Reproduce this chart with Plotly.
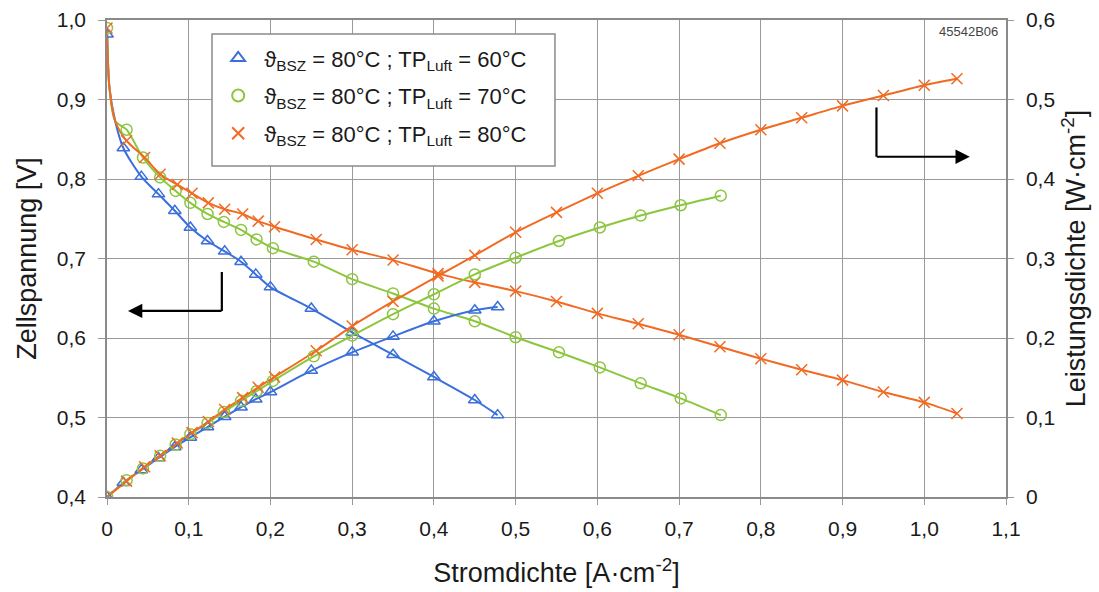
import plotly.graph_objects as go

# ---------------- data ----------------
current_60 = [0, 0.02, 0.042, 0.063, 0.083, 0.102, 0.123, 0.144, 0.164, 0.182, 0.2,
              0.25, 0.3, 0.35, 0.4, 0.45, 0.478]
voltage_60 = [0.982, 0.839, 0.803, 0.781, 0.760, 0.739, 0.722, 0.709, 0.696, 0.680, 0.664,
              0.637, 0.607, 0.579, 0.551, 0.522, 0.503]
power_60 = [0, 0.018, 0.034, 0.049, 0.063, 0.075, 0.088, 0.101, 0.113, 0.123, 0.132,
            0.159, 0.182, 0.202, 0.221, 0.235, 0.239]

current_70 = [0, 0.024, 0.044, 0.065, 0.084, 0.102, 0.123, 0.143, 0.164, 0.183, 0.203,
              0.253, 0.3, 0.35, 0.4, 0.45, 0.5, 0.553, 0.603, 0.653, 0.702, 0.751]
voltage_70 = [0.99, 0.862, 0.827, 0.802, 0.785, 0.770, 0.756, 0.746, 0.736, 0.724, 0.713,
              0.696, 0.674, 0.656, 0.637, 0.621, 0.601, 0.582, 0.563, 0.543, 0.524, 0.503]
power_70 = [0, 0.021, 0.036, 0.052, 0.066, 0.079, 0.093, 0.107, 0.121, 0.133, 0.146,
            0.177, 0.203, 0.230, 0.255, 0.280, 0.301, 0.322, 0.339, 0.354, 0.367, 0.379]

current_80 = [0, 0.024, 0.046, 0.065, 0.086, 0.104, 0.124, 0.144, 0.166, 0.185, 0.205,
              0.256, 0.3, 0.35, 0.405, 0.45, 0.5, 0.55, 0.6, 0.65, 0.7, 0.75, 0.8,
              0.85, 0.9, 0.95, 1.0, 1.04]
voltage_80 = [0.99, 0.848, 0.827, 0.806, 0.793, 0.782, 0.770, 0.762, 0.756, 0.747, 0.740,
              0.724, 0.711, 0.698, 0.681, 0.670, 0.659, 0.646, 0.631, 0.618, 0.604, 0.589,
              0.574, 0.560, 0.547, 0.532, 0.519, 0.505]
power_80 = [0, 0.020, 0.038, 0.052, 0.068, 0.081, 0.095, 0.110, 0.125, 0.138, 0.151,
            0.184, 0.215, 0.246, 0.278, 0.304, 0.333, 0.358, 0.382, 0.404, 0.425, 0.445,
            0.462, 0.477, 0.492, 0.505, 0.518, 0.526]

knee_current = [0, 0.003, 0.01]
knee_voltage = [0.99, 0.915, 0.873]

series_names = [
    "\u03d1<sub>BSZ</sub> = 80°C ; TP<sub>Luft</sub> = 60°C",
    "\u03d1<sub>BSZ</sub> = 80°C ; TP<sub>Luft</sub> = 70°C",
    "\u03d1<sub>BSZ</sub> = 80°C ; TP<sub>Luft</sub> = 80°C",
]

x_ticks = [0, 0.1, 0.2, 0.3, 0.4, 0.5, 0.6, 0.7, 0.8, 0.9, 1.0, 1.1]
x_ticktext = ["0", "0,1", "0,2", "0,3", "0,4", "0,5", "0,6", "0,7", "0,8", "0,9", "1,0", "1,1"]
yl_ticks = [0.4, 0.5, 0.6, 0.7, 0.8, 0.9, 1.0]
yl_ticktext = ["0,4", "0,5", "0,6", "0,7", "0,8", "0,9", "1,0"]
yr_ticks = [0, 0.1, 0.2, 0.3, 0.4, 0.5, 0.6]
yr_ticktext = ["0", "0,1", "0,2", "0,3", "0,4", "0,5", "0,6"]

# ---------------- styles ----------------
colors = ["#3a6fdc", "#8cc63e", "#f26a22"]
symbols = ["triangle-up-open", "circle-open", "x-thin-open"]
sizes = [11, 11, 11]
FONT = "Liberation Sans, Arial, sans-serif"

fig = go.Figure()

datasets = [
    (current_60, voltage_60, power_60),
    (current_70, voltage_70, power_70),
    (current_80, voltage_80, power_80),
]

for i, (cur, volt, powr) in enumerate(datasets):
    c = colors[i]
    fig.add_trace(go.Scatter(
        x=knee_current + cur[1:], y=knee_voltage + volt[1:], mode="lines",
        line=dict(color=c, width=2, shape="spline", smoothing=0.8),
        showlegend=False, hoverinfo="skip", yaxis="y", legendgroup=f"g{i}"))
    fig.add_trace(go.Scatter(
        x=cur, y=powr, mode="lines",
        line=dict(color=c, width=2, shape="spline", smoothing=0.8),
        showlegend=False, hoverinfo="skip", yaxis="y2", legendgroup=f"g{i}"))

for i, (cur, volt, powr) in enumerate(datasets):
    c = colors[i]
    mk = dict(symbol=symbols[i], color=c, size=sizes[i], line=dict(color=c, width=1.5))
    fig.add_trace(go.Scatter(x=cur, y=volt, mode="markers", marker=mk,
                             name=series_names[i], showlegend=True, yaxis="y",
                             legendgroup=f"g{i}"))
    fig.add_trace(go.Scatter(x=cur, y=powr, mode="markers", marker=mk,
                             name=series_names[i], showlegend=False, yaxis="y2",
                             legendgroup=f"g{i}"))

grid_col = "#9a9a9a"
axis_font = dict(family=FONT, size=21, color="#1a1a1a")
title_font = dict(family=FONT, size=27, color="#1a1a1a")

fig.update_layout(
    width=1099, height=592,
    margin=dict(l=107, r=93, t=20, b=95),
    paper_bgcolor="white", plot_bgcolor="white",
    font=dict(family=FONT, color="#1a1a1a"),
    xaxis=dict(
        range=[0, 1.1], tickvals=x_ticks, ticktext=x_ticktext,
        showgrid=True, gridcolor=grid_col, gridwidth=1,
        showline=True, linecolor="#8a8a8a", linewidth=1.5, mirror=True,
        ticks="outside", ticklen=6, tickcolor=grid_col, ticklabelstandoff=6,
        tickfont=axis_font, zeroline=False, automargin=False,
        title=dict(text="Stromdichte [A·cm<sup>-2</sup>]", font=title_font, standoff=24),
    ),
    yaxis=dict(
        range=[0.4, 1.0], tickvals=yl_ticks, ticktext=yl_ticktext,
        showgrid=True, gridcolor=grid_col, gridwidth=1,
        showline=True, linecolor="#8a8a8a", linewidth=1.5,
        ticks="outside", ticklen=7, tickcolor=grid_col, ticklabelstandoff=8,
        tickfont=axis_font, zeroline=False, automargin=False,
        title=dict(text="Zellspannung [V]", font=title_font, standoff=12),
    ),
    yaxis2=dict(
        range=[0, 0.6], tickvals=yr_ticks, ticktext=yr_ticktext,
        overlaying="y", side="right", showgrid=False,
        showline=True, linecolor="#8a8a8a", linewidth=1.5,
        ticks="outside", ticklen=6, tickcolor=grid_col, ticklabelstandoff=8,
        tickfont=axis_font, zeroline=False, automargin=False,
        title=dict(text="Leistungsdichte [W·cm<sup>-2</sup>]", font=title_font, standoff=12),
    ),
    legend=dict(
        x=0.117, y=0.964, xanchor="left", yanchor="top",
        bgcolor="rgba(0,0,0,0)", borderwidth=0,
        font=dict(family=FONT, size=22, color="#1a1a1a"),
        itemsizing="constant", itemwidth=42,
        traceorder="grouped", tracegroupgap=6,
    ),
    showlegend=True,
)

# legend frame (white box covering the grid, drawn under the legend entries)
fig.add_shape(type="rect", xref="paper", yref="paper",
              x0=0.1168, x1=0.4983, y0=0.6939, y1=0.9706,
              fillcolor="white", line=dict(color="#8a8a8a", width=1.5), layer="above")

fig.add_annotation(text="45542B06", xref="paper", yref="paper", x=0.958, y=0.976,
                   showarrow=False, font=dict(family=FONT, size=13, color="#444"),
                   xanchor="center", yanchor="middle")

# axis-assignment arrows (L-shaped)
fig.add_shape(type="line", xref="x", yref="y", x0=0.1405, x1=0.1405, y0=0.683, y1=0.634,
              line=dict(color="black", width=2.2))
fig.add_annotation(xref="x", yref="y", axref="x", ayref="y",
                   x=0.0257, y=0.634, ax=0.142, ay=0.634, text="", showarrow=True,
                   arrowhead=2, arrowsize=1.3, arrowwidth=2.2, arrowcolor="black")
fig.add_shape(type="line", xref="x", yref="y", x0=0.9415, x1=0.9415, y0=0.890, y1=0.828,
              line=dict(color="black", width=2.2))
fig.add_annotation(xref="x", yref="y", axref="x", ayref="y",
                   x=1.0557, y=0.828, ax=0.940, ay=0.828, text="", showarrow=True,
                   arrowhead=2, arrowsize=1.3, arrowwidth=2.2, arrowcolor="black")

fig.write_html("out.html")
